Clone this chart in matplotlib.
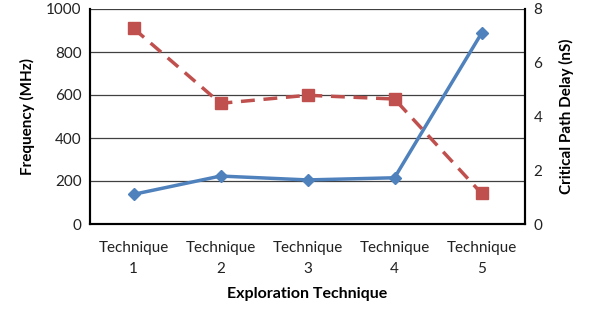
import matplotlib.pyplot as plt

plt.rcParams['font.family'] = ['Lato', 'DejaVu Sans']

techniques = ['Technique\n1', 'Technique\n2', 'Technique\n3', 'Technique\n4', 'Technique\n5']
frequency = [138, 223, 205, 215, 887]
delay = [7.28, 4.49, 4.79, 4.65, 1.14]

fig = plt.figure(figsize=(5.96, 3.12), dpi=100)
ax = fig.add_axes([90 / 596, 1 - 224 / 312, 435 / 596, 215 / 312])
ax2 = ax.twinx()

x = range(len(techniques))
ax.plot(x, frequency, color='#4F81BD', lw=2.5, marker='D', ms=6, zorder=3)
ax2.plot(x, delay, color='#C0504D', lw=2.5, ls=(0, (4, 2.5)), marker='s', ms=8, zorder=3)

ax.set_xlim(-0.5, 4.5)
ax.set_ylim(0, 1000)
ax.set_yticks(range(0, 1001, 200))
ax2.set_ylim(0, 8)
ax2.set_yticks(range(0, 9, 2))
ax.set_xticks(list(x))
ax.set_xticklabels(techniques, linespacing=1.7)

ax.grid(axis='y', color='#404040', lw=0.9)
ax.set_axisbelow(True)
for a in (ax, ax2):
    a.tick_params(length=0, labelsize=11, colors='#222222', pad=6)
    for s in a.spines.values():
        s.set_linewidth(1.5)
        s.set_color('black')
    a.spines['top'].set_visible(False)
ax.tick_params(axis='x', pad=12)

ax.set_ylabel('Frequency (MHz)', fontsize=11, fontweight='bold', labelpad=8)
ax2.set_ylabel('Critical Path Delay (nS)', fontsize=11, fontweight='bold', labelpad=12)
ax.set_xlabel('Exploration Technique', fontsize=11.5, fontweight='bold', labelpad=8)

fig.savefig('out.png', dpi=100)
